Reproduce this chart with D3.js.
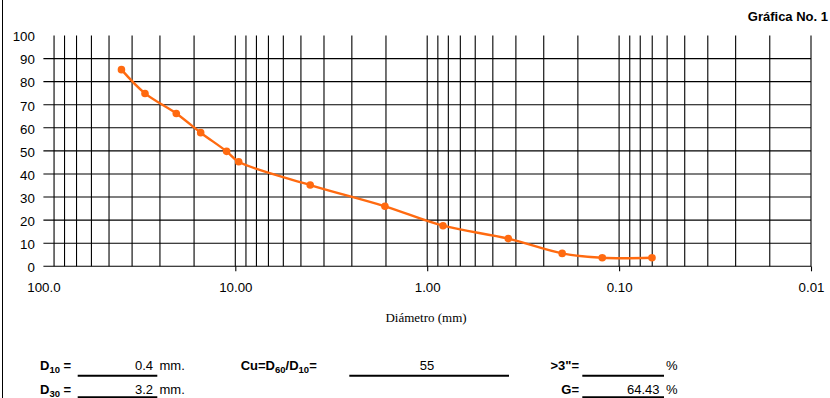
<!DOCTYPE html>
<html><head><meta charset="utf-8">
<script src="https://cdn.jsdelivr.net/npm/d3@7"></script>
<style>
html,body{margin:0;padding:0;background:#fff;}
svg{display:block;}
text{font-family:"Liberation Sans",Arial,Helvetica,sans-serif;fill:#000;}
</style></head>
<body>
<svg id="chart" width="830" height="398"></svg>
<script>
// ---- data ----
const diameters = [39.2, 29.55, 20.3, 15.15, 11.1, 9.6, 4.07, 1.66, 0.827, 0.378, 0.198, 0.1224, 0.0674]; // mm
const passing   = [85.2, 74.9, 66.2, 57.9, 49.8, 45.3, 35.2, 26.0, 17.6, 12.0, 5.6, 3.7, 3.7];          // %
const xTickValues = [100, 10, 1, 0.1, 0.01];
const xTickLabels = ["100.0", "10.00", "1.00", "0.10", "0.01"];
const xGridValues = [
  88, 77.6, 67.2, 56.2, 45.5, 34.5, 24.7, 16.4,
  8.8, 7.76, 6.72, 5.62, 4.55, 3.45, 2.47, 1.64,
  0.88, 0.776, 0.672, 0.562, 0.455, 0.345, 0.247, 0.164,
  0.088, 0.0776, 0.0672, 0.0562, 0.0455, 0.0345, 0.0247, 0.0164
];
const yTickValues = [0, 10, 20, 30, 40, 50, 60, 70, 80, 90, 100];
const yGridValues = [0, 10, 20, 30, 40, 50, 60, 70, 80, 90];
const title = "Gráfica No. 1";
const xTitle = "Diámetro (mm)";
const D10 = "0.4", D30 = "3.2", Cu = "55", over3 = "", G = "64.43";

// ---- drawing ----
const svg = d3.select("#chart");
const x = d3.scaleLog().domain([100, 0.01]).range([43.4, 811]);
const y = d3.scaleLinear().domain([0, 100]).range([266.3, 35.5]);

// left frame line
svg.append("line").attr("x1", 2.5).attr("x2", 2.5).attr("y1", 0).attr("y2", 398)
  .attr("stroke", "#000").attr("stroke-width", 1);

// title
svg.append("text").attr("x", 828).attr("y", 21).attr("text-anchor", "end")
  .attr("font-weight", "bold").attr("font-size", "13px").text(title);

// grid
const g = svg.append("g");
g.selectAll("line.hg").data(yGridValues).join("line").attr("class", "hg")
  .attr("x1", x(100)).attr("x2", x(0.01))
  .attr("y1", d => y(d)).attr("y2", d => y(d))
  .attr("stroke", "#000").attr("stroke-width", 1.1);
g.selectAll("line.vg").data(xGridValues.concat(xTickValues.slice(1))).join("line").attr("class", "vg")
  .attr("x1", d => x(d)).attr("x2", d => x(d))
  .attr("y1", y(100)).attr("y2", y(0))
  .attr("stroke", "#000").attr("stroke-width", 1.1);

// x axis
const xAxis = d3.axisBottom(x).tickValues(xTickValues)
  .tickFormat((d, i) => xTickLabels[i]).tickSize(5).tickPadding(11);
const xa = svg.append("g").attr("transform", `translate(0,${y(0)})`).call(xAxis);
xa.select(".domain").remove();
xa.selectAll(".tick line").attr("stroke", "#000").attr("stroke-width", 1.1)
  .attr("opacity", (d, i) => i === 0 ? 0 : 1);
xa.selectAll(".tick text").attr("font-size", "13.3px").attr("fill", "#000");

// y axis
const yAxis = d3.axisLeft(y).tickValues(yTickValues).tickSize(0).tickPadding(8.5);
const ya = svg.append("g").attr("transform", `translate(${x(100)},0)`).call(yAxis);
ya.select(".domain").remove();
ya.selectAll(".tick text").attr("font-size", "13.3px").attr("dy", "0.4em").attr("fill", "#000");

// x title
svg.append("text").attr("x", 426).attr("y", 322).attr("text-anchor", "middle")
  .style("font-family", '"Liberation Serif","Times New Roman",serif')
  .attr("font-size", "13px").text(xTitle);

// curve + points
const pts = diameters.map((d, i) => [d, passing[i]]);
const line = d3.line().x(d => x(d[0])).y(d => y(d[1])).curve(d3.curveCatmullRom.alpha(0.5));
svg.append("path").datum(pts).attr("d", line)
  .attr("fill", "none").attr("stroke", "#ff6a10").attr("stroke-width", 2.4);
svg.selectAll("circle.pt").data(pts).join("circle").attr("class", "pt")
  .attr("cx", d => x(d[0])).attr("cy", d => y(d[1])).attr("r", 3.8)
  .attr("fill", "#ff6a10");

// bottom summary block
const fs = "13px";
function label(xp, yp, parts, anchor) {
  const t = svg.append("text").attr("x", xp).attr("y", yp).attr("font-size", fs)
    .attr("font-weight", "bold").attr("text-anchor", anchor || "start");
  parts.forEach(p => {
    const s = t.append("tspan").text(p.t);
    if (p.sub) s.attr("font-size", "9.5px").attr("dy", "3");
    if (p.up) s.attr("dy", "-3");
  });
  return t;
}
function val(xp, yp, txt, anchor) {
  svg.append("text").attr("x", xp).attr("y", yp).attr("font-size", fs)
    .attr("text-anchor", anchor).text(txt);
}
function uline(x1, x2, yp, w) {
  svg.append("line").attr("x1", x1).attr("x2", x2).attr("y1", yp).attr("y2", yp)
    .attr("stroke", "#000").attr("stroke-width", w);
}
const r1 = 369.5, r2 = 394;
label(40, r1, [{t: "D"}, {t: "10", sub: true}, {t: " =", up: true}]);
label(40, r2, [{t: "D"}, {t: "30", sub: true}, {t: " =", up: true}]);
uline(77.7, 157.3, 375.7, 2);
uline(77.7, 157.3, 397.3, 2);
val(153, r1, D10, "end");
val(153, r2, D30, "end");
val(159.5, r1, "mm.", "start");
val(159.5, r2, "mm.", "start");

label(240.7, r1, [{t: "Cu=D"}, {t: "60", sub: true}, {t: "/D", up: true}, {t: "10", sub: true}, {t: "=", up: true}]);
uline(349.3, 509, 375.7, 2);
val(427, r1, Cu, "middle");

label(579, r1, [{t: ">3\"="}], "end");
label(579, r2, [{t: "G="}], "end");
uline(582.3, 664, 375.7, 2);
uline(582.3, 664, 397.3, 2);
val(659.5, r1, over3, "end");
val(659.5, r2, G, "end");
val(666, r1, "%", "start");
val(666, r2, "%", "start");
</script>
</body></html>
